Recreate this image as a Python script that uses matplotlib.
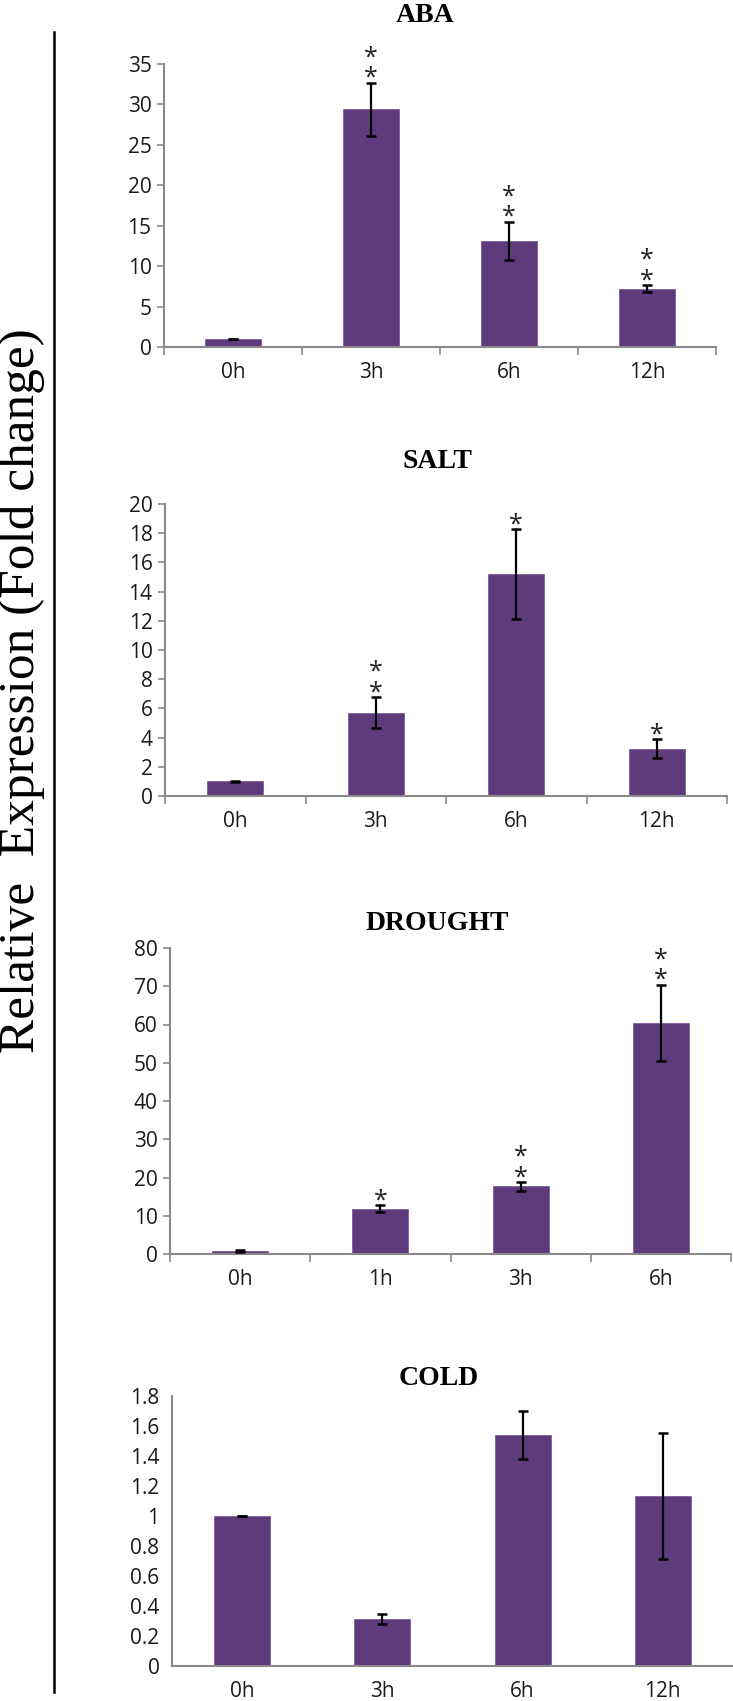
import matplotlib.pyplot as plt
from matplotlib.lines import Line2D

# panel data
panels = ["ABA", "SALT", "DROUGHT", "COLD"]
times_aba = ["0h", "3h", "6h", "12h"]
times_salt = ["0h", "3h", "6h", "12h"]
times_drought = ["0h", "1h", "3h", "6h"]
times_cold = ["0h", "3h", "6h", "12h"]

aba_mean = [1.0, 29.4, 13.1, 7.2]
aba_err = [0.05, 3.3, 2.4, 0.45]
aba_stars = ["", "**", "**", "**"]

salt_mean = [1.0, 5.7, 15.2, 3.25]
salt_err = [0.03, 1.05, 3.1, 0.65]
salt_stars = ["", "**", "*", "*"]

drought_mean = [0.8, 11.8, 17.7, 60.4]
drought_err = [0.2, 0.9, 1.1, 10.0]
drought_stars = ["", "*", "**", "**"]

cold_mean = [1.0, 0.315, 1.54, 1.135]
cold_err = [0.003, 0.035, 0.16, 0.42]
cold_stars = ["", "", "", ""]

yticks_aba = [0, 5, 10, 15, 20, 25, 30, 35]
yticks_salt = [0, 2, 4, 6, 8, 10, 12, 14, 16, 18, 20]
yticks_drought = [0, 10, 20, 30, 40, 50, 60, 70, 80]
yticks_cold = [0, 0.2, 0.4, 0.6, 0.8, 1, 1.2, 1.4, 1.6, 1.8]
ytick_labels_cold = ["0", "0.2", "0.4", "0.6", "0.8", "1", "1.2", "1.4", "1.6", "1.8"]

W, H = 733, 1701
BAR = "#5f3b7e"
AXIS = "#8a8a8a"
TICKFONT = "Open Sans"
SERIF = "Liberation Serif"


def draw_panel(fig, box, title, title_xy, labels, mean, err, stars,
               yticks, ylabels=None, ticks=True):
    left, right, top, bottom = box
    ax = fig.add_axes([left / W, 1 - bottom / H, (right - left) / W, (bottom - top) / H])
    x = range(len(labels))
    ax.bar(x, mean, width=0.4, color=BAR, edgecolor="#7d5f9b", linewidth=0.6, zorder=2)
    ax.errorbar(x, mean, yerr=err, fmt="none", ecolor="black", elinewidth=1.6,
                capsize=3.8, capthick=1.8, zorder=3)
    for i, s in enumerate(stars):
        if s:
            ax.annotate("\n".join(s), xy=(i, mean[i] + err[i]), xytext=(0, -6),
                        textcoords="offset points", ha="center", va="bottom",
                        fontsize=18, family=TICKFONT, color="#222222", linespacing=0.78)
    ax.set_xlim(-0.5, len(labels) - 0.5)
    ax.set_ylim(0, yticks[-1])
    ax.set_yticks(yticks)
    ax.set_yticklabels(ylabels if ylabels else [str(t) for t in yticks])
    ax.set_xticks(list(x))
    ax.set_xticklabels(labels)
    for sp in ["top", "right"]:
        ax.spines[sp].set_visible(False)
    for sp in ["left", "bottom"]:
        ax.spines[sp].set_color(AXIS)
        ax.spines[sp].set_linewidth(1.5)
    ax.tick_params(axis="x", length=0, pad=11, labelsize=15, labelcolor="#1a1a1a")
    ax.tick_params(axis="y", length=5 if ticks else 0, width=1.2, color=AXIS,
                   pad=4 if ticks else 9, labelsize=15, labelcolor="#1a1a1a")
    for lab in ax.get_xticklabels() + ax.get_yticklabels():
        lab.set_family(TICKFONT)
    if ticks:
        ax.set_xticks([i - 0.5 for i in range(len(labels) + 1)], minor=True)
        ax.tick_params(axis="x", which="minor", length=6, width=1.2, color=AXIS)
    fig.text(title_xy[0] / W, 1 - title_xy[1] / H, title, ha="center", va="center",
             fontsize=20, fontweight="bold", family=SERIF)
    return ax


fig = plt.figure(figsize=(W / 100, H / 100), dpi=100)

draw_panel(fig, (164, 716, 64, 347), panels[0], (425, 15), times_aba,
           aba_mean, aba_err, aba_stars, yticks_aba)
draw_panel(fig, (165, 727, 504, 796), panels[1], (437, 461), times_salt,
           salt_mean, salt_err, salt_stars, yticks_salt)
draw_panel(fig, (170, 731, 948, 1254), panels[2], (437, 923), times_drought,
           drought_mean, drought_err, drought_stars, yticks_drought)
draw_panel(fig, (172, 733, 1396, 1666), panels[3], (439, 1378), times_cold,
           cold_mean, cold_err, cold_stars, yticks_cold, ytick_labels_cold, ticks=False)

fig.add_artist(Line2D([54 / W, 54 / W], [1 - 32 / H, 1 - 1692 / H], color="black", lw=1.8))
fig.text(22 / W, 1 - 691 / H, "Relative  Expression (Fold change)", rotation=90,
         ha="center", va="center", fontsize=37, family=SERIF)

fig.savefig("out.png", dpi=100)
